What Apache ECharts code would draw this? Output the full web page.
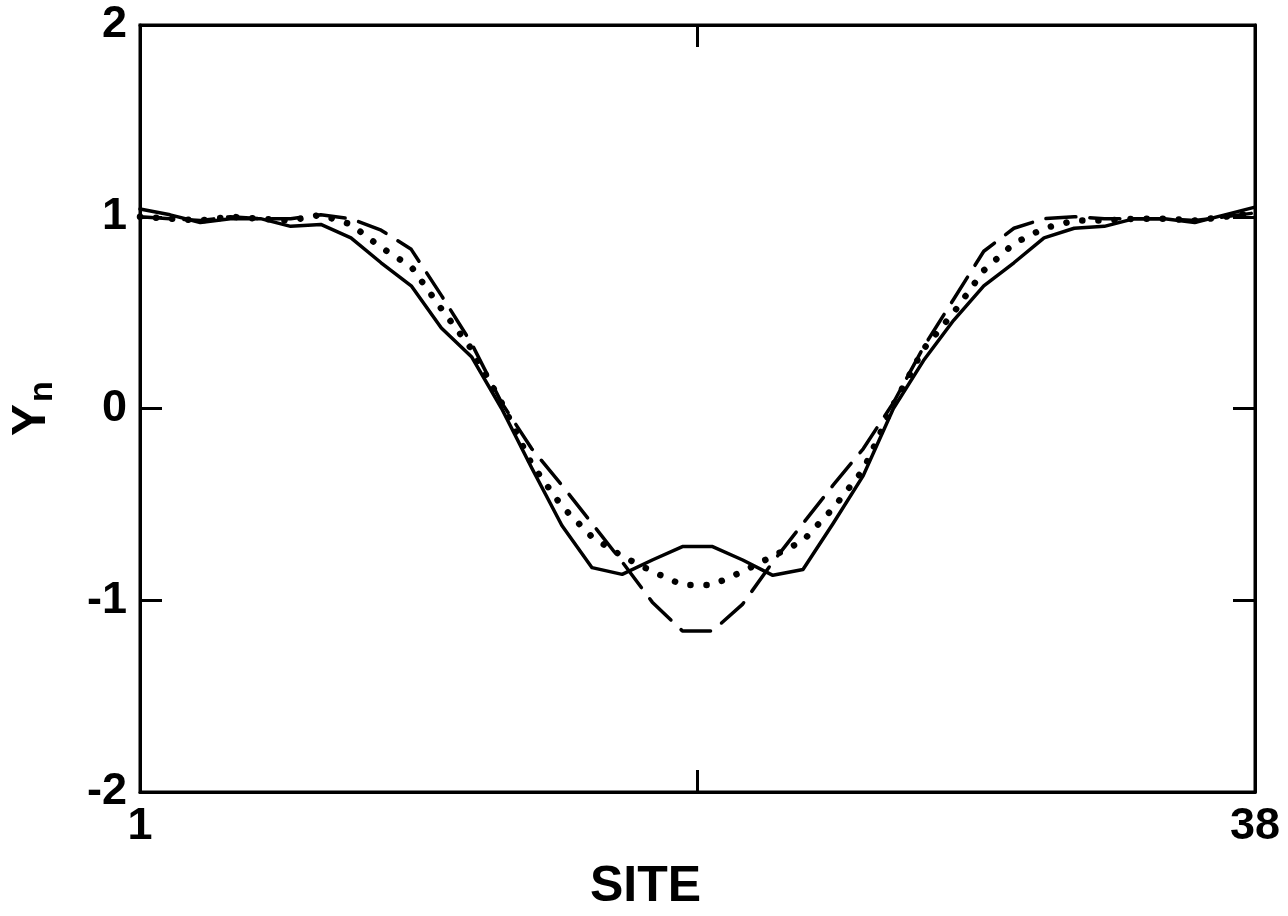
<!DOCTYPE html>
<html>
<head>
<meta charset="utf-8">
<script src="https://cdn.jsdelivr.net/npm/echarts@6/dist/echarts.min.js"></script>
<style>
  html, body { margin: 0; padding: 0; background: #fff; }
  #chart { width: 1288px; height: 916px; }
</style>
</head>
<body>
<div id="chart"></div>
<script>
// Lattice sites 1..38
const sites = Array.from({ length: 38 }, (_, i) => i + 1);

// Y_n profiles along the chain
const solidY = [1.04, 1.01, 0.97, 0.99, 0.99, 0.95, 0.96, 0.89, 0.76, 0.64,
                0.42, 0.27, 0.00, -0.31, -0.61, -0.83, -0.865, -0.79, -0.72, -0.72,
                -0.79, -0.87, -0.84, -0.60, -0.35, 0.00, 0.25, 0.46, 0.64, 0.76,
                0.89, 0.94, 0.95, 0.99, 0.99, 0.97, 1.01, 1.05];
const dottedY = [1.00, 0.99, 0.98, 1.00, 0.99, 0.98, 1.01, 0.96, 0.84, 0.74,
                 0.52, 0.31, 0.03, -0.29, -0.51, -0.67, -0.77, -0.85, -0.92, -0.92,
                 -0.85, -0.77, -0.69, -0.52, -0.32, 0.02, 0.31, 0.50, 0.72, 0.86,
                 0.94, 0.98, 0.98, 0.99, 0.99, 0.98, 1.00, 1.02];
const dashedY = [1.00, 0.99, 0.98, 1.00, 0.99, 0.99, 1.01, 0.99, 0.93, 0.83,
                 0.59, 0.34, 0.03, -0.21, -0.40, -0.60, -0.80, -1.01, -1.16, -1.16,
                 -1.02, -0.80, -0.60, -0.40, -0.21, 0.03, 0.32, 0.57, 0.82, 0.94,
                 0.99, 1.00, 0.99, 0.99, 0.99, 0.98, 1.00, 1.02];

// Axis ticks and labels
const xLabelValues = [1, 38];
const xTickValues = [19.5];
const yTickValues = [-2, -1, 0, 1, 2];
const yTickLabels = ['-2', '-1', '0', '1', '2'];

const FONT = 'Liberation Sans';

const pairs = ys => sites.map((s, i) => [s, ys[i]]);

const chart = echarts.init(document.getElementById('chart'), null, { renderer: 'canvas' });

const lineBase = { type: 'line', symbol: 'none', smooth: false, silent: true, animation: false, z: 5 };
const frameLine = { show: true, onZero: false, lineStyle: { color: '#000', width: 3 } };
const tickStyle = { color: '#000', width: 3 };

chart.setOption({
  backgroundColor: '#fff',
  animation: false,
  grid: {
    left: 140, right: 33, top: 25, bottom: 124,
    outerBoundsMode: 'none', containLabel: false,
    show: true, borderColor: '#000', borderWidth: 3, backgroundColor: 'transparent'
  },
  xAxis: [
    {
      type: 'value', min: 1, max: 38, position: 'bottom',
      name: 'SITE', nameLocation: 'middle', nameGap: 70,
      nameTextStyle: { fontFamily: FONT, fontSize: 50, fontWeight: 'bold', color: '#000',
                       padding: [0, 104, 0, 0] },
      axisLine: frameLine,
      axisTick: { show: true, inside: true, length: 22, customValues: xTickValues, lineStyle: tickStyle },
      axisLabel: { show: true, customValues: xLabelValues, margin: 12,
                   fontFamily: FONT, fontSize: 45, fontWeight: 'bold', color: '#000' },
      splitLine: { show: false }
    },
    {
      type: 'value', min: 1, max: 38, position: 'top',
      axisLine: frameLine,
      axisTick: { show: true, inside: true, length: 22, customValues: xTickValues, lineStyle: tickStyle },
      axisLabel: { show: false },
      splitLine: { show: false }
    }
  ],
  yAxis: [
    {
      type: 'value', min: -2, max: 2, interval: 1, position: 'left',
      name: '{y|Y}{n|n}', nameLocation: 'middle', nameRotate: 90, nameGap: 84,
      nameTextStyle: {
        color: '#000',
        rich: {
          y: { fontFamily: FONT, fontSize: 48, fontWeight: 'bold', color: '#000', verticalAlign: 'bottom' },
          n: { fontFamily: FONT, fontSize: 34, fontWeight: 'bold', color: '#000', verticalAlign: 'bottom',
               padding: [0, 0, -4, 2] }
        }
      },
      axisLine: frameLine,
      axisTick: { show: true, inside: true, length: 22, lineStyle: tickStyle },
      axisLabel: {
        show: true, margin: 13, fontFamily: FONT, fontSize: 45, fontWeight: 'bold', color: '#000',
        formatter: v => yTickLabels[yTickValues.indexOf(v)]
      },
      splitLine: { show: false }
    },
    {
      type: 'value', min: -2, max: 2, interval: 1, position: 'right',
      axisLine: frameLine,
      axisTick: { show: true, inside: true, length: 22, lineStyle: tickStyle },
      axisLabel: { show: false },
      splitLine: { show: false }
    }
  ],
  series: [
    Object.assign({}, lineBase, {
      name: 'solid', data: pairs(solidY),
      lineStyle: { color: '#000', width: 3.5, type: 'solid', join: 'round', cap: 'round' }
    }),
    Object.assign({}, lineBase, {
      name: 'dotted', data: pairs(dottedY),
      lineStyle: { color: '#000', width: 6.5, type: [0.1, 16], cap: 'round', join: 'round' }
    }),
    Object.assign({}, lineBase, {
      name: 'dashed', data: pairs(dashedY),
      lineStyle: { color: '#000', width: 3.5, type: [30, 14], cap: 'round', join: 'round' }
    })
  ]
});
</script>
</body>
</html>
